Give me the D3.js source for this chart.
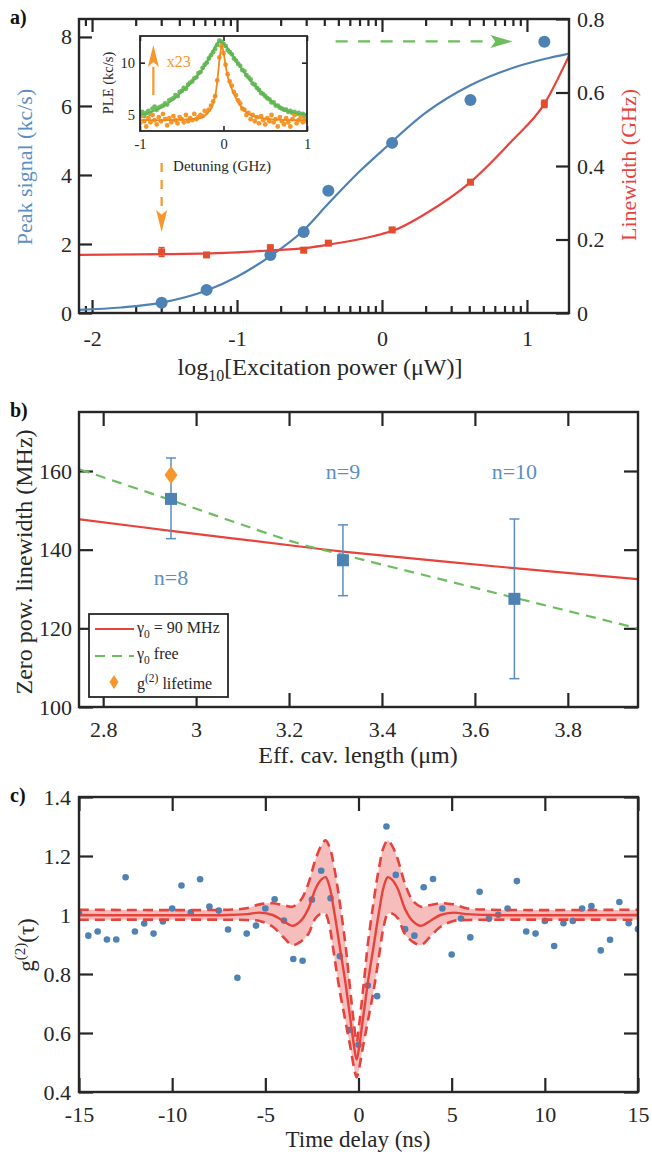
<!DOCTYPE html>
<html>
<head>
<meta charset="utf-8">
<script src="https://cdn.jsdelivr.net/npm/d3@7"></script>
<style>
body { margin: 0; background: #fff; }
svg text { font-family: "Liberation Serif", "Times New Roman", serif; }
</style>
</head>
<body>
<div id="fig"></div>
<script>
// ---- panel a: power series ----
const powerLog = [-1.52, -1.21, -0.77, -0.54, -0.37, 0.07, 0.61, 1.12];
const peakSignal = [0.30, 0.67, 1.68, 2.35, 3.54, 4.93, 6.17, 7.86];
const linewidth = [0.166, 0.158, 0.177, 0.171, 0.190, 0.226, 0.356, 0.569];
const linewidthErr = [0.012, 0.005, 0.008, 0.006, 0.005, 0.006, 0.006, 0.010];
const peakFitX = [-2.09, -1.8, -1.52, -1.21, -1.0, -0.77, -0.54, -0.37, -0.15, 0.0, 0.3, 0.61, 0.9, 1.12, 1.29];
const peakFitY = [0.09, 0.16, 0.30, 0.65, 1.05, 1.65, 2.40, 3.17, 4.12, 4.70, 5.80, 6.60, 7.10, 7.36, 7.52];
const lwFitX = [-2.09, -1.5, -1.0, -0.77, -0.5, -0.37, 0.0, 0.07, 0.3, 0.61, 0.9, 1.12, 1.29];
const lwFitY = [0.158, 0.160, 0.165, 0.170, 0.178, 0.186, 0.215, 0.223, 0.270, 0.356, 0.470, 0.569, 0.700];

// ---- panel a inset: PLE spectra ----
const detuning = d3.range(81).map(i => -1 + i * 0.025);
const pleHigh = [5.0, 5.3, 4.9, 5.2, 5.4, 5.1, 5.6, 5.8, 5.5, 5.7, 5.8, 5.9, 6.1, 6.0, 6.4, 6.5, 6.6, 6.9, 6.8, 7.2,
  7.3, 7.6, 7.5, 7.9, 8.1, 8.2, 8.5, 8.6, 9.0, 9.1, 9.5, 9.8, 10.0, 10.4, 10.7, 11.0, 11.3, 11.7, 12.1, 12.0,
  11.8, 11.6, 11.2, 11.0, 10.8, 10.4, 10.2, 9.9, 9.7, 9.3, 9.2, 8.8, 8.6, 8.4, 8.0, 7.9, 7.6, 7.4, 7.1, 7.0,
  6.8, 6.6, 6.5, 6.2, 6.2, 5.9, 5.9, 5.7, 5.6, 5.5, 5.5, 5.3, 5.4, 5.2, 5.3, 5.1, 5.2, 5.0, 5.1, 4.9, 5.0];
const pleLow = [4.2, 4.9, 4.4, 3.9, 4.7, 4.3, 5.0, 4.5, 4.1, 4.8, 4.4, 5.1, 4.6, 4.0, 4.7, 4.3, 4.9, 4.5, 4.2, 4.8,
  4.6, 4.3, 5.0, 4.4, 4.7, 4.5, 5.1, 4.6, 4.8, 5.0, 4.9, 5.4, 5.3, 5.5, 5.9, 6.3, 6.8, 8.3, 10.5, 11.6,
  10.9, 9.8, 8.9, 8.2, 7.8, 7.2, 6.9, 6.4, 6.1, 5.6, 5.5, 5.0, 5.2, 4.6, 5.0, 4.4, 4.8, 4.2, 4.9, 4.5,
  4.1, 4.7, 4.4, 5.0, 4.3, 4.6, 3.9, 4.8, 4.4, 4.1, 4.7, 4.3, 3.9, 4.6, 5.0, 4.2, 4.5, 4.8, 4.3, 4.6, 4.4];
const highFitX = [-1, -0.8, -0.6, -0.4, -0.25, -0.15, -0.05, 0.05, 0.15, 0.3, 0.5, 0.7, 0.85, 1];
const highFitY = [5.0, 5.5, 6.5, 8.0, 9.4, 10.8, 12.0, 11.4, 10.2, 8.5, 6.8, 5.6, 5.2, 5.0];
const lowFitX = [-1, -0.4, -0.25, -0.15, -0.1, -0.07, -0.04, -0.02, 0, 0.03, 0.06, 0.1, 0.15, 0.22, 0.32, 0.5, 1];
const lowFitY = [4.5, 4.6, 4.8, 5.6, 6.8, 8.6, 10.8, 11.6, 11.0, 9.5, 8.4, 7.5, 6.6, 5.7, 5.0, 4.65, 4.5];

// ---- panel b: zero power linewidth vs cavity length ----
const cavLength = [2.946, 3.316, 3.685];
const zeroLw = [152.9, 137.3, 127.5];
const zeroLwLo = [142.8, 128.3, 107.2];
const zeroLwHi = [163.3, 146.3, 147.8];
const modeNames = ["n=8", "n=9", "n=10"];
const g2Lifetime = { length: 2.946, value: 159.0 };
const fixedFitX = [2.75, 2.946, 3.223, 3.316, 3.685, 3.95];
const fixedFitY = [147.7, 144.8, 140.8, 139.5, 135.3, 132.5];
const freeFitX = [2.75, 2.946, 3.223, 3.316, 3.685, 3.95];
const freeFitY = [160.4, 152.6, 141.5, 138.7, 127.8, 120.0];

// ---- panel c: g2 ----
const delay = d3.range(61).map(i => -15 + i * 0.5);
const g2 = [1.009, 0.930, 0.944, 0.917, 0.917, 1.128, 0.944, 0.971, 0.937, 0.978, 1.022, 1.100, 1.009, 1.121, 1.029, 1.015,
  0.951, 0.787, 0.937, 0.964, 1.022, 1.053, 0.981, 0.851, 0.845, 1.052, 1.150, 1.057, 0.860, 0.610, 0.560,
  0.761, 0.725, 1.300, 1.136, 0.952, 0.930, 1.094, 1.122, 1.022, 0.866, 0.988, 0.924, 1.079, 0.987, 1.001,
  1.022, 1.115, 0.944, 0.937, 0.980, 0.895, 0.972, 0.980, 1.022, 1.030, 0.880, 0.916, 1.044, 0.972, 0.952];
const fitT = [-15, -7, -6, -5.3, -4.6, -4, -3.55, -3.1, -2.7, -2.3, -2, -1.77, -1.55, -1.3, -1.0, -0.7, -0.55, -0.4, -0.25, -0.1,
  0.05, 0.2, 0.35, 0.5, 0.8, 1.1, 1.35, 1.57, 1.8, 2.1, 2.5, 2.9, 3.35, 3.8, 4.4, 5.1, 5.8, 7, 15];
const fitG = [1.0, 1.0, 1.003, 1.008, 1.0, 0.978, 0.963, 0.98, 1.02, 1.09, 1.12, 1.128, 1.095, 1.01, 0.89, 0.77, 0.70, 0.63, 0.56, 0.51,
  0.56, 0.63, 0.70, 0.77, 0.89, 1.01, 1.095, 1.128, 1.12, 1.09, 1.02, 0.98, 0.963, 0.978, 1.0, 1.008, 1.003, 1.0, 1.0];
const fitUpper = [1.018, 1.018, 1.023, 1.036, 1.04, 1.033, 1.028, 1.05, 1.105, 1.19, 1.235, 1.253, 1.23, 1.16, 1.04, 0.90, 0.81, 0.72, 0.635, 0.57,
  0.635, 0.72, 0.81, 0.90, 1.04, 1.16, 1.23, 1.253, 1.235, 1.19, 1.105, 1.05, 1.028, 1.033, 1.04, 1.036, 1.023, 1.018, 1.018];
const fitLower = [0.984, 0.984, 0.983, 0.98, 0.96, 0.923, 0.898, 0.91, 0.935, 0.99, 1.005, 1.003, 0.96, 0.86, 0.74, 0.64, 0.59, 0.54, 0.485, 0.45,
  0.485, 0.54, 0.59, 0.64, 0.74, 0.86, 0.96, 1.003, 1.005, 0.99, 0.935, 0.91, 0.898, 0.923, 0.96, 0.98, 0.983, 0.984, 0.984];

const dark = "#262626";
const blue = "#4e82b4";
const blueText = "#5b8fc3";
const red = "#e8423d";
const redSq = "#e44d2c";
const orange = "#f7962a";
const green = "#6cbd5e";

const svg = d3.select("#fig").append("svg")
  .attr("width", 652)
  .attr("height", 1152);

const defs = svg.append("defs");
const clip = (id, x0, y0, x1, y1) => {
  defs.append("clipPath").attr("id", id)
    .append("rect").attr("x", x0).attr("y", y0).attr("width", x1 - x0).attr("height", y1 - y0);
};

const frame = (x0, y0, x1, y1, sw) => {
  svg.append("rect")
    .attr("x", x0).attr("y", y0)
    .attr("width", x1 - x0).attr("height", y1 - y0)
    .attr("fill", "none")
    .attr("stroke", dark)
    .attr("stroke-width", sw);
};

// draws an axis, strips the domain line and applies the serif look
const drawAxis = (parent, ax, tx, ty, fs, sw) => {
  const g = parent.append("g").attr("transform", `translate(${tx},${ty})`).call(ax);
  g.select(".domain").remove();
  g.attr("font-family", null).attr("font-size", null);
  g.selectAll(".tick line").attr("stroke", dark).attr("stroke-width", sw);
  g.selectAll(".tick text")
    .attr("fill", dark)
    .attr("font-size", fs)
    .style("font-family", '"Liberation Serif", "Times New Roman", serif');
  return g;
};

const arrow = (g, x1, y1, x2, y2, color, dash, headLen, headW, sw) => {
  const ang = Math.atan2(y2 - y1, x2 - x1);
  const bx = x2 - headLen * Math.cos(ang), by = y2 - headLen * Math.sin(ang);
  g.append("line")
    .attr("x1", x1).attr("y1", y1).attr("x2", bx).attr("y2", by)
    .attr("stroke", color).attr("stroke-width", sw)
    .attr("stroke-dasharray", dash);
  const px = -Math.sin(ang) * headW / 2, py = Math.cos(ang) * headW / 2;
  const backX = x2 - headLen * 0.78 * Math.cos(ang), backY = y2 - headLen * 0.78 * Math.sin(ang);
  g.append("polygon")
    .attr("points", `${x2},${y2} ${bx + px},${by + py} ${backX},${backY} ${bx - px},${by - py}`)
    .attr("fill", color);
};

const smooth = d3.curveCatmullRom.alpha(0.5);

// =================== PANEL A ===================
const xA = d3.scaleLinear().domain([-2.09, 1.29]).range([79, 569]);
const yA = d3.scaleLinear().domain([0, 8.52]).range([313, 19]);
const yAR = d3.scaleLinear().domain([0, 0.8]).range([313, 19]);
clip("clipA", 79, 19, 569, 313);

const majorA = [-2, -1, 0, 1];
const minorA = [];
[-3, -2, -1, 0, 1].forEach(n => d3.range(2, 10).forEach(k => {
  const v = n + Math.log10(k);
  if (v > -2.09 && v < 1.29) minorA.push(v);
}));

drawAxis(svg, d3.axisBottom(xA).tickValues(majorA).tickSize(-13).tickPadding(17).tickFormat(d => String(d)), 0, 313, 22, 2.2);
drawAxis(svg, d3.axisBottom(xA).tickValues(minorA).tickSize(-7).tickFormat(""), 0, 313, 22, 2.2);
drawAxis(svg, d3.axisTop(xA).tickValues(majorA).tickSize(-13).tickFormat(""), 0, 19, 22, 2.2);
drawAxis(svg, d3.axisTop(xA).tickValues(minorA).tickSize(-7).tickFormat(""), 0, 19, 22, 2.2);
drawAxis(svg, d3.axisLeft(yA).tickValues([0, 2, 4, 6, 8]).tickSize(-13).tickPadding(7), 79, 0, 22, 2.2);
drawAxis(svg, d3.axisRight(yAR).tickValues([0, 0.2, 0.4, 0.6, 0.8]).tickSize(-13).tickPadding(8)
  .tickFormat(d => d === 0 ? "0" : d.toFixed(1)), 569, 0, 22, 2.2);

const plotA = svg.append("g").attr("clip-path", "url(#clipA)");

plotA.append("path")
  .datum(d3.zip(peakFitX, peakFitY))
  .attr("fill", "none").attr("stroke", blue).attr("stroke-width", 2.2)
  .attr("d", d3.line().x(d => xA(d[0])).y(d => yA(d[1])).curve(d3.curveMonotoneX));
plotA.append("path")
  .datum(d3.zip(lwFitX, lwFitY))
  .attr("fill", "none").attr("stroke", red).attr("stroke-width", 2.2)
  .attr("d", d3.line().x(d => xA(d[0])).y(d => yAR(d[1])).curve(d3.curveMonotoneX));

powerLog.forEach((p, i) => {
  plotA.append("circle")
    .attr("cx", xA(p)).attr("cy", yA(peakSignal[i]))
    .attr("r", 6).attr("fill", blue);
});
powerLog.forEach((p, i) => {
  const x = xA(p);
  plotA.append("line")
    .attr("x1", x).attr("x2", x)
    .attr("y1", yAR(linewidth[i] - linewidthErr[i])).attr("y2", yAR(linewidth[i] + linewidthErr[i]))
    .attr("stroke", redSq).attr("stroke-width", 1.5);
  [-1, 1].forEach(s => plotA.append("line")
    .attr("x1", x - 3).attr("x2", x + 3)
    .attr("y1", yAR(linewidth[i] + s * linewidthErr[i])).attr("y2", yAR(linewidth[i] + s * linewidthErr[i]))
    .attr("stroke", redSq).attr("stroke-width", 1.5));
  plotA.append("rect")
    .attr("x", x - 3.5).attr("y", yAR(linewidth[i]) - 3.5)
    .attr("width", 7).attr("height", 7)
    .attr("fill", redSq);
});

// annotation arrows
arrow(svg, xA(powerLog[0]), yA(4.35), xA(powerLog[0]), yA(2.35), orange, "9,8", 22, 11, 2.2);
arrow(svg, xA(-0.32), yA(7.87), xA(0.90), yA(7.87), green, "12,10.5", 22, 13, 2.2);

frame(79, 19, 569, 313, 2.4);

// axis titles
svg.append("text")
  .attr("transform", "translate(32,167) rotate(-90)")
  .attr("text-anchor", "middle").attr("font-size", 22).attr("fill", blueText)
  .text("Peak signal (kc/s)");
svg.append("text")
  .attr("transform", "translate(636,165) rotate(-90)")
  .attr("text-anchor", "middle").attr("font-size", 22).attr("fill", red)
  .text("Linewidth (GHz)");
const xlabA = svg.append("text")
  .attr("x", 320).attr("y", 375)
  .attr("text-anchor", "middle").attr("font-size", 24).attr("fill", dark);
xlabA.append("tspan").text("log");
xlabA.append("tspan").attr("font-size", 16).attr("dy", 6).text("10");
xlabA.append("tspan").attr("dy", -6).text("[Excitation power (\u03bcW)]");

svg.append("text").attr("x", 10).attr("y", 24)
  .attr("font-size", 20).attr("font-weight", "bold").attr("fill", "#111").text("a)");

// ---- inset ----
const xI = d3.scaleLinear().domain([-1, 1]).range([140, 307]);
const yI = d3.scaleLinear().domain([3.47, 12.55]).range([131, 36]);
clip("clipI", 140, 36, 307, 131);

svg.append("rect").attr("x", 140).attr("y", 36).attr("width", 167).attr("height", 95).attr("fill", "#fff");
drawAxis(svg, d3.axisBottom(xI).tickValues([-1, 0, 1]).tickSize(-5).tickPadding(8).tickFormat(d => String(d)), 0, 131, 14.5, 1.6);
drawAxis(svg, d3.axisTop(xI).tickValues([-1, 0, 1]).tickSize(-5).tickFormat(""), 0, 36, 14.5, 1.6);
drawAxis(svg, d3.axisLeft(yI).tickValues([5, 10]).tickSize(-5).tickPadding(5), 140, 0, 14.5, 1.6);
drawAxis(svg, d3.axisRight(yI).tickValues([5, 10]).tickSize(-5).tickFormat(""), 307, 0, 14.5, 1.6);

const plotI = svg.append("g").attr("clip-path", "url(#clipI)");
plotI.selectAll("circle.hi").data(detuning).enter().append("circle")
  .attr("cx", d => xI(d)).attr("cy", (d, i) => yI(pleHigh[i]))
  .attr("r", 2.4).attr("fill", green);
plotI.selectAll("circle.lo").data(detuning).enter().append("circle")
  .attr("cx", d => xI(d)).attr("cy", (d, i) => yI(pleLow[i]))
  .attr("r", 2.4).attr("fill", orange);
plotI.append("path")
  .datum(d3.zip(highFitX, highFitY))
  .attr("fill", "none").attr("stroke", "#5fb352").attr("stroke-width", 1.8)
  .attr("d", d3.line().x(d => xI(d[0])).y(d => yI(d[1])).curve(smooth));
plotI.append("path")
  .datum(d3.zip(lowFitX, lowFitY))
  .attr("fill", "none").attr("stroke", "#f08a1c").attr("stroke-width", 1.8)
  .attr("d", d3.line().x(d => xI(d[0])).y(d => yI(d[1])).curve(smooth));

arrow(svg, xI(-0.84), yI(6.9), xI(-0.84), yI(11.7), orange, null, 22, 11, 2.2);
svg.append("text").attr("x", xI(-0.68)).attr("y", yI(9.6))
  .attr("font-size", 16).attr("fill", orange).text("x23");
frame(140, 36, 307, 131, 1.8);
svg.append("text")
  .attr("transform", "translate(113,83) rotate(-90)")
  .attr("text-anchor", "middle").attr("font-size", 14.5).attr("fill", dark)
  .text("PLE (kc/s)");
svg.append("text").attr("x", 222).attr("y", 171)
  .attr("text-anchor", "middle").attr("font-size", 15).attr("fill", dark)
  .text("Detuning (GHz)");

// =================== PANEL B ===================
const xB = d3.scaleLinear().domain([2.748, 3.951]).range([79, 638]);
const yB = d3.scaleLinear().domain([100, 175]).range([707, 412]);
clip("clipB", 79, 412, 638, 707);

const bxTicks = [2.8, 3.0, 3.2, 3.4, 3.6, 3.8];
drawAxis(svg, d3.axisBottom(xB).tickValues(bxTicks).tickSize(-14).tickPadding(14.4).tickFormat(d => String(+d.toFixed(1))), 0, 707, 22, 2.2);
drawAxis(svg, d3.axisTop(xB).tickValues(bxTicks).tickSize(-14).tickFormat(""), 0, 412, 22, 2.2);
drawAxis(svg, d3.axisLeft(yB).tickValues([100, 120, 140, 160]).tickSize(-14).tickPadding(7), 79, 0, 22, 2.2);
drawAxis(svg, d3.axisRight(yB).tickValues([100, 120, 140, 160]).tickSize(-14).tickFormat(""), 638, 0, 22, 2.2);

const plotB = svg.append("g").attr("clip-path", "url(#clipB)");
plotB.append("path")
  .datum(d3.zip(fixedFitX, fixedFitY))
  .attr("fill", "none").attr("stroke", red).attr("stroke-width", 2.2)
  .attr("d", d3.line().x(d => xB(d[0])).y(d => yB(d[1])).curve(smooth));
plotB.append("path")
  .datum(d3.zip(freeFitX, freeFitY))
  .attr("fill", "none").attr("stroke", green).attr("stroke-width", 2.2)
  .attr("stroke-dasharray", "10,7")
  .attr("d", d3.line().x(d => xB(d[0])).y(d => yB(d[1])).curve(smooth));

cavLength.forEach((L, i) => {
  const x = xB(L);
  plotB.append("line")
    .attr("x1", x).attr("x2", x).attr("y1", yB(zeroLwLo[i])).attr("y2", yB(zeroLwHi[i]))
    .attr("stroke", "#5b8ec0").attr("stroke-width", 1.5);
  [zeroLwLo[i], zeroLwHi[i]].forEach(v => plotB.append("line")
    .attr("x1", x - 5).attr("x2", x + 5).attr("y1", yB(v)).attr("y2", yB(v))
    .attr("stroke", "#5b8ec0").attr("stroke-width", 1.5));
  plotB.append("rect")
    .attr("x", x - 6).attr("y", yB(zeroLw[i]) - 6)
    .attr("width", 12).attr("height", 12)
    .attr("fill", blue);
});
{
  const x = xB(g2Lifetime.length), y = yB(g2Lifetime.value);
  plotB.append("polygon")
    .attr("points", `${x},${y - 9} ${x + 6.5},${y} ${x},${y + 9} ${x - 6.5},${y}`)
    .attr("fill", orange);
}
// mode labels: n=8 below its point, the others above
const modeLabelY = [131.0, 158.0, 158.0];
modeNames.forEach((n, i) => {
  svg.append("text")
    .attr("x", xB(cavLength[i])).attr("y", yB(modeLabelY[i]))
    .attr("text-anchor", "middle").attr("font-size", 22).attr("fill", blueText)
    .text(n);
});

frame(79, 412, 638, 707, 2.4);

// legend
const leg = svg.append("g");
leg.append("rect").attr("x", 89).attr("y", 614).attr("width", 139).attr("height", 83)
  .attr("fill", "#fff").attr("stroke", dark).attr("stroke-width", 1.8);
leg.append("line").attr("x1", 95).attr("x2", 134).attr("y1", 629).attr("y2", 629)
  .attr("stroke", red).attr("stroke-width", 2.2);
leg.append("line").attr("x1", 95).attr("x2", 134).attr("y1", 656).attr("y2", 656)
  .attr("stroke", green).attr("stroke-width", 2.2).attr("stroke-dasharray", "10,7");
leg.append("polygon").attr("points", "114,675 118.5,682 114,689 109.5,682").attr("fill", orange);
const l1 = leg.append("text").attr("x", 137).attr("y", 633).attr("font-size", 16).attr("fill", dark);
l1.append("tspan").text("\u03b3");
l1.append("tspan").attr("font-size", 11.5).attr("dy", 5).text("0");
l1.append("tspan").attr("dy", -5).text(" = 90 MHz");
const l2 = leg.append("text").attr("x", 137).attr("y", 659).attr("font-size", 16).attr("fill", dark);
l2.append("tspan").text("\u03b3");
l2.append("tspan").attr("font-size", 11.5).attr("dy", 5).text("0");
l2.append("tspan").attr("dy", -5).text(" free");
const l3 = leg.append("text").attr("x", 137).attr("y", 689).attr("font-size", 16).attr("fill", dark);
l3.append("tspan").text("g");
l3.append("tspan").attr("font-size", 11.5).attr("dy", -7).text("(2)");
l3.append("tspan").attr("dy", 7).text(" lifetime");

svg.append("text")
  .attr("transform", "translate(32,562) rotate(-90)")
  .attr("text-anchor", "middle").attr("font-size", 24).attr("fill", dark)
  .text("Zero pow. linewidth (MHz)");
svg.append("text").attr("x", 358).attr("y", 763)
  .attr("text-anchor", "middle").attr("font-size", 24).attr("fill", dark)
  .text("Eff. cav. length (\u03bcm)");
svg.append("text").attr("x", 10).attr("y", 417)
  .attr("font-size", 20).attr("font-weight", "bold").attr("fill", "#111").text("b)");

// =================== PANEL C ===================
const xC = d3.scaleLinear().domain([-15, 15]).range([79, 638]);
const yC = d3.scaleLinear().domain([0.4, 1.4]).range([1092, 797]);
clip("clipC", 79, 797, 638, 1092);

const cxTicks = [-15, -10, -5, 0, 5, 10, 15];
const cyTicks = [0.4, 0.6, 0.8, 1.0, 1.2, 1.4];
drawAxis(svg, d3.axisBottom(xC).tickValues(cxTicks).tickSize(-14).tickPadding(14.4).tickFormat(d => String(d)), 0, 1092, 22, 2.2);
drawAxis(svg, d3.axisTop(xC).tickValues(cxTicks).tickSize(-14).tickFormat(""), 0, 797, 22, 2.2);
drawAxis(svg, d3.axisLeft(yC).tickValues(cyTicks).tickSize(-14).tickPadding(8).tickFormat(d => String(+d.toFixed(1))), 79, 0, 22, 2.2);
drawAxis(svg, d3.axisRight(yC).tickValues(cyTicks).tickSize(-14).tickFormat(""), 638, 0, 22, 2.2);

const plotC = svg.append("g").attr("clip-path", "url(#clipC)");
const fitRows = fitT.map((t, i) => ({ t, g: fitG[i], hi: fitUpper[i], lo: fitLower[i] }));
plotC.append("path")
  .datum(fitRows)
  .attr("fill", "#f3b3b1").attr("opacity", 0.85)
  .attr("d", d3.area().x(d => xC(d.t)).y0(d => yC(d.lo)).y1(d => yC(d.hi)).curve(smooth));
plotC.selectAll("circle").data(delay).enter().append("circle")
  .attr("cx", d => xC(d)).attr("cy", (d, i) => yC(g2[i]))
  .attr("r", 3.3).attr("fill", blue);
["hi", "lo"].forEach(k => plotC.append("path")
  .datum(fitRows)
  .attr("fill", "none").attr("stroke", red).attr("stroke-width", 2.6)
  .attr("stroke-dasharray", "10,6")
  .attr("d", d3.line().x(d => xC(d.t)).y(d => yC(d[k])).curve(smooth)));
plotC.append("path")
  .datum(fitRows)
  .attr("fill", "none").attr("stroke", red).attr("stroke-width", 2.4)
  .attr("d", d3.line().x(d => xC(d.t)).y(d => yC(d.g)).curve(smooth));

frame(79, 797, 638, 1092, 2.4);

const ylabC = svg.append("text")
  .attr("transform", "translate(34,945) rotate(-90)")
  .attr("text-anchor", "middle").attr("font-size", 23).attr("fill", dark);
ylabC.append("tspan").text("g");
ylabC.append("tspan").attr("font-size", 15).attr("dy", -9).text("(2)");
ylabC.append("tspan").attr("dy", 9).text("(\u03c4)");
svg.append("text").attr("x", 358).attr("y", 1147)
  .attr("text-anchor", "middle").attr("font-size", 23).attr("fill", dark)
  .text("Time delay (ns)");
svg.append("text").attr("x", 10).attr("y", 802)
  .attr("font-size", 20).attr("font-weight", "bold").attr("fill", "#111").text("c)");
</script>
</body>
</html>
